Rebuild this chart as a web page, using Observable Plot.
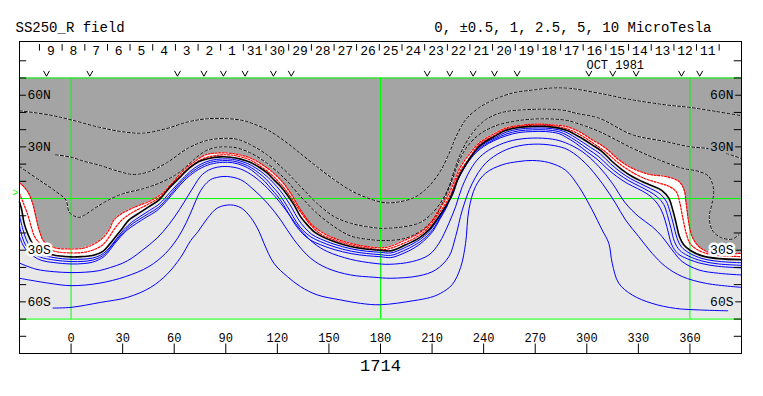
<!DOCTYPE html>
<html><head><meta charset="utf-8">
<script src="https://cdn.jsdelivr.net/npm/d3@7"></script>
<script src="https://cdn.jsdelivr.net/npm/@observablehq/plot@0.6"></script>
<style>body{margin:0;background:#fff}</style>
</head><body><div id="chart"></div>
<script>
// ---- axis / annotation data ----
const lonTicks = [0, 30, 60, 90, 120, 150, 180, 210, 240, 270, 300, 330, 360];
const latTicks = [-80, -70, -60, -50, -40, -30, -20, -10, 10, 20, 30, 40, 50, 60, 70, 80];
const latLabelValues = [60, 30, -30, -60];
const latLabelText = ["60N", "30N", "30S", "60S"];
const dayLabels = [9, 8, 7, 6, 5, 4, 3, 2, 1, 31, 30, 29, 28, 27, 26, 25, 24, 23, 22, 21, 20, 19, 18, 17, 16, 15, 14, 13, 12, 11];
const dayLons = [-11.8, 1.4, 14.6, 27.7, 40.9, 54.1, 67.3, 80.5, 93.6, 106.8, 120, 133.2, 146.4, 159.5, 172.7, 185.9, 199.1, 212.3, 225.4, 238.6, 251.8, 265, 278.2, 291.3, 304.5, 317.7, 330.9, 344.1, 357.2, 370.4];
const dayTickLons = [-18.4, -5.2, 8, 21.2, 34.3, 47.5, 60.7, 73.9, 87, 100.2, 113.4, 126.6, 139.8, 153, 166.1, 179.3, 192.5, 205.7, 218.9, 232, 245.2, 258.4, 271.6, 284.8, 297.9, 311.1, 324.3, 337.5, 350.7, 363.8, 377];
const monthLabel = [{lon: 299.8, lat: 75.2, text: "OCT 1981"}];
const obsLons = [-14.3, 10.9, 61.9, 77.3, 88.6, 101.2, 117.7, 128.1, 207.2, 220.3, 233.9, 246.3, 259.5, 301.2, 315.1, 328.7, 355.1, 365.7];
const earthLat = [3.3];
const gridLons = [0, 180, 360];
const gridLats = [70, 0, -70];

// ---- contour lines [longitude, latitude] ----
const neutralLine = [[-30,-2],[-28.7,-6.6],[-27.3,-14.3],[-25.3,-20.2],[-22.4,-26],[-17.6,-29.8],[-10.8,-32.7],[0,-33.9],[6.6,-33.7],[12.4,-33.1],[18.3,-30.8],[22.1,-26.9],[26,-22.1],[29.9,-17.2],[33.7,-12.4],[39.5,-8.5],[45.3,-4.7],[51.2,-0.8],[57,6],[62.8,11.8],[68.7,17.6],[74.4,21.5],[80,23.3],[87,24.2],[92.8,24],[98.7,22.9],[104.5,20.9],[110.3,17.6],[114.2,14.7],[118,10.8],[121.9,7],[125.8,2.1],[129.7,-3.7],[133.5,-10.5],[137.4,-15.3],[141.3,-19.2],[145.2,-21.7],[152.9,-25],[162.6,-27.9],[172.3,-29.5],[180,-30],[186,-30.4],[194.6,-26.9],[202.3,-23],[208.1,-18.2],[213.9,-10.5],[217.8,-4.7],[221.7,2.1],[225.6,12.8],[229.5,19.6],[233.4,25.4],[237.3,30.2],[241.1,33.1],[246.9,36.4],[252.7,39.5],[260.5,41.3],[268.3,41.9],[276,41.9],[283.8,40.9],[289,39.3],[295.3,36],[303.1,31.2],[308.9,27.3],[314.8,21.5],[320.6,16.7],[326.4,12.8],[332.2,9.9],[338,7.4],[343.8,4.6],[347.7,0.2],[350,-6.6],[352,-14.4],[353.9,-22.1],[356.4,-26.9],[360.3,-30.2],[367.1,-33.3],[376.7,-34.9],[390,-35.5]];

const redOuter = [[-30,9],[-29.2,8.5],[-25.3,4.1],[-22.4,-2.7],[-20.5,-10.5],[-18.6,-18.2],[-15.7,-25],[-9.9,-28.5],[0,-29.3],[6.6,-28.9],[12.4,-26.9],[18.3,-23],[22.1,-18.2],[25,-12.4],[29.9,-8.5],[37.6,-4.7],[45.3,-1.7],[53.1,3.1],[59,9.3],[64.8,15.7],[70.6,20.5],[78.3,25.4],[87,26.5],[95,26],[104.5,23.4],[114.2,17.6],[121.9,10.8],[127.7,3.1],[133.5,-6.6],[139.3,-14.4],[145.2,-19.2],[152.9,-23],[162.6,-26],[172.3,-27.9],[183,-28.4],[194.6,-24],[202.3,-20.2],[208.1,-15.3],[213.9,-6.6],[217.8,-0.8],[221.7,7],[225.6,16.7],[231.4,25.4],[237.3,32.2],[245,37],[252.7,40.9],[260.5,42.4],[270.2,43.2],[279.9,42.8],[287.6,41.9],[295.3,39],[303.1,34.1],[310.9,29.3],[318.6,22.5],[326.4,17.6],[336.1,14.1],[345.8,12.8],[353.6,9.9],[356.6,5],[357.8,-2.7],[359.4,-14.4],[361.3,-22.1],[365.2,-27.9],[373,-31.8],[390,-31.8]];

const redInner = [[-30,3],[-28,-2],[-25,-10],[-23,-17],[-21,-22.5],[-17,-27],[-10,-30.5],[0,-31.6],[7,-31.3],[12.4,-30],[18.3,-27],[22,-22.5],[25,-18],[29,-13],[35,-8.5],[45,-3.2],[52,1],[58,7.5],[64,13.5],[70,18.8],[77,23.2],[87,25.3],[95,25],[104.5,22.2],[112,17.5],[118,12.5],[124,6],[129,-1],[134,-8.5],[139,-15],[145,-20.5],[153,-24],[163,-27],[172,-28.7],[183,-29.5],[194.6,-25.5],[202.3,-21.6],[208,-16.7],[214,-8.5],[218,-2.7],[221.7,4.5],[225.6,14.7],[231,22.5],[237.3,31.2],[245,36],[252.7,40.2],[260.5,41.9],[270,42.6],[280,42.3],[288,40.6],[295.3,37.5],[303,32.6],[311,27],[318,21],[326,15.5],[334,11.5],[342,9],[348,7],[352,4],[354,-2],[356,-12],[357.8,-20],[360,-26],[364,-29.5],[372,-32.5],[390,-33.7]];

const blue1 = [[-30,-10],[-28,-18],[-26,-24],[-23,-29],[-18,-32.3],[-10,-34.3],[0,-35.3],[7,-35.2],[12.4,-34.6],[17,-33],[20.5,-30.5],[24,-26.5],[27.5,-22],[31,-17.8],[35,-14],[40,-10.5],[45.5,-7],[51.5,-3],[57.5,3.5],[63,9.5],[69,15.5],[75,19.7],[81,22.1],[88,23],[94,22.8],[100,21.3],[105,19.2],[110,16],[114,12.8],[118,8.8],[121.5,4.8],[125,0],[128.5,-5.5],[132,-11.8],[136,-17],[140,-20.8],[145,-23.4],[153,-26.5],[163,-29.2],[172,-30.6],[180,-31.2],[186,-31.6],[194,-28.6],[201,-25],[207,-20.5],[212.5,-13.5],[216.5,-7],[220.5,0],[224.5,10.5],[228.5,17.8],[232.5,24],[236.5,29],[241,32.3],[247,35.5],[253,38.5],[260.5,40.3],[268.3,40.9],[276,40.9],[283.8,39.9],[289,38],[294.5,34.7],[302,29.8],[308,25.8],[313.8,20.2],[319.5,15.5],[325.5,11.5],[331.5,8.5],[337,5.8],[342.5,2.8],[346.2,-1.5],[348.5,-8],[350.5,-15.5],[352.5,-23],[355,-28],[359.5,-31.6],[367,-34.8],[376.7,-36.5],[390,-37.3]];

const blue2 = [[-30,-16],[-28.5,-22],[-26.5,-27],[-23,-31],[-18,-34],[-10,-35.7],[0,-36.6],[7,-36.5],[12.4,-35.8],[16.5,-34.3],[20,-32],[23,-28.3],[26.5,-24],[30,-20],[34,-16],[39,-12.5],[45,-8.8],[51,-5],[56.5,0.8],[62,7.3],[68,13.5],[74.5,18.2],[81,21],[88,22],[94,21.8],[100,20.2],[105,17.8],[109.5,14.6],[113.5,11.2],[117,7.2],[120.5,3.2],[124,-1.8],[127.5,-7.5],[131,-13.5],[135,-18.5],[139.5,-22.3],[145,-25],[153,-28],[163,-30.6],[172,-31.9],[180,-32.6],[186,-33],[193.5,-30.3],[200,-27],[206,-22.8],[211.5,-16.5],[215.5,-9.5],[219.5,-2.5],[223.5,8],[227.5,15.8],[231.5,22.2],[236,27.8],[240.5,31.2],[246.5,34.5],[253,37.4],[260.5,39.3],[268.3,39.9],[276,39.9],[283.8,38.8],[288.5,36.8],[294,33.4],[301,28.5],[307,24.3],[312.8,18.8],[318.5,14.2],[324.5,10.3],[330.5,7.2],[336,4.3],[341,1],[344.8,-3.5],[347,-10],[349,-17.5],[351,-25],[354,-30],[359,-33.3],[367,-36.3],[376.7,-38],[390,-38.8]];

const blue3 = [[-30,-22],[-28,-27],[-25.5,-30.5],[-22,-33.5],[-17,-36],[-10,-37.2],[0,-38],[7,-37.8],[12.4,-37],[16,-35.6],[19.5,-33.5],[22.5,-30],[25.5,-26],[29,-22],[33,-18],[38,-14.5],[44,-10.7],[50,-7],[55.5,-1.5],[61,5],[67,11.5],[74,16.8],[81,19.9],[88,21],[94,20.8],[100,19.1],[105,16.5],[109,13.2],[113,9.6],[116.5,5.5],[120,1.5],[123.5,-3.5],[127,-9.5],[130.5,-15.3],[134.5,-20.2],[139,-24],[145,-26.8],[153,-29.6],[163,-32],[172,-33.2],[180,-33.8],[186,-34.3],[193,-32],[199.5,-28.8],[205,-24.8],[210.5,-19],[214.5,-12],[218.5,-5],[222.5,5.5],[226.5,13.7],[230.5,20.5],[235.5,26.6],[240,30.2],[246,33.6],[253,36.4],[260.5,38.3],[268.3,38.9],[276,38.9],[283.8,37.7],[288,35.6],[293.5,32.2],[300,27.2],[306,22.8],[311.8,17.4],[317.5,12.8],[323.5,8.8],[329.5,5.8],[335,2.8],[339.5,-1],[343,-6],[345.5,-12.5],[347.5,-20],[349.5,-27],[353,-32],[358.5,-35],[367,-37.8],[376.7,-39.4],[390,-40.3]];

const blue4 = [[-30,-37.5],[-20.5,-41],[-10,-42.5],[0,-43],[8,-42.8],[16.3,-41.9],[23,-40],[29.9,-37.6],[35.5,-34.5],[41.5,-30],[50,-23],[57,-15],[63,-6.5],[68,1.5],[72,8],[75.4,13],[80,16.5],[85,18.2],[90.9,18.6],[98.7,17.1],[106.4,12.8],[114.2,6],[121.9,-2.7],[127.7,-10.5],[133.5,-18.2],[141.3,-26],[149.1,-30.8],[162.6,-35.3],[176.2,-37.6],[185,-38.2],[198.5,-36.6],[208.1,-32.8],[214,-26],[219.8,-14.3],[223.7,-4.7],[227.6,7],[233.4,18.6],[239.2,25.4],[246.9,30.2],[256.6,33.7],[268.3,35.1],[279.9,34.5],[287.6,32.4],[297.3,27.3],[307,18.6],[314.8,8.9],[322.5,-2.7],[330.2,-10.5],[338,-16.3],[343.8,-22.1],[349.6,-29.8],[355.5,-36.6],[365.2,-41.5],[376.7,-43.4],[390,-44.4]];

const blue5 = [[-30,-46.3],[-12.8,-49.2],[0,-50.6],[16.3,-49.2],[31.8,-45.3],[45.3,-39.5],[55,-31.8],[62,-23],[67,-14],[71,-5],[74,2],[77,7],[81.2,11],[86,12.5],[90.9,12.8],[98.7,10.9],[106.4,5],[114.2,-2.7],[121.9,-12.4],[129.7,-24],[139.4,-34.7],[149.1,-40.5],[162.6,-44.4],[176.2,-45.7],[186,-46.3],[202.3,-44.9],[212,-41.5],[219.8,-33.7],[223.7,-22.1],[227.6,-6.6],[233.4,8.9],[241.1,20.5],[250.8,27.3],[260.5,30.6],[272.1,31.6],[283.7,30.2],[290,27.8],[299.2,20.5],[308.9,8.9],[316.7,-2.7],[322.5,-12.4],[330.2,-22.1],[338,-31.8],[345.8,-39.5],[355.5,-45.3],[369,-49.2],[390,-51.6]];

const blue6 = [[-10.5,-63.6],[0,-63.2],[17.3,-60.3],[32.8,-57.4],[46.3,-51.6],[56,-43.8],[63.8,-34.1],[69.6,-24.4],[74,-19],[79.3,-11.5],[85.1,-5.5],[92.8,-3.7],[99,-5.5],[104.5,-11],[109.3,-19],[112.2,-26],[118,-37.6],[125.8,-45.3],[133.5,-51.2],[143.3,-56],[156.8,-58.9],[168.4,-60.9],[180,-61.7],[199.4,-59.3],[209.1,-57.4],[215,-55],[221.7,-50],[226.6,-40],[229.5,-26],[231.4,-6.6],[235.3,7],[241.1,14.7],[250.8,19.6],[260.5,21.5],[268.3,22.1],[277.9,20.9],[287.6,16.5],[295.3,7],[303.1,-6.6],[308.9,-18.2],[312.8,-26],[314.8,-37.6],[318.6,-49.2],[326.4,-56],[338,-60.9],[351.6,-63.8],[365.2,-64.7],[382,-65.2]];

const dashed1 = [[-30,18.6],[-18.6,10.8],[-8.9,4.1],[-3.1,-0.8],[-1.2,-7.6],[1.5,-10],[4.7,-10.9],[8,-9.5],[12.4,-6.6],[20.2,-1.7],[29.9,2.7],[41.5,5.6],[51.2,8.9],[60.9,13.8],[67,18.5],[72.5,23.5],[78,27.5],[84,29.6],[90,30],[96,29.5],[104.5,26.4],[114,20.5],[124,11.8],[133.5,1.2],[143,-8.5],[153,-16.3],[162.6,-21.7],[172,-23.6],[183,-24.4],[194.6,-23],[204.3,-18.2],[212,-10.5],[216.9,-0.8],[221.7,10.8],[225.6,21.5],[230.5,30.2],[237.2,37],[246.9,42.2],[260.5,45.3],[274.1,46.3],[287.6,45.5],[293.4,44],[307,39],[326.4,29.3],[341.9,22.5],[355.5,17.6],[365.2,15.7],[371,12.8],[373.8,5],[372.9,-2.7],[371.3,-10.5],[372.9,-18.2],[377.7,-22.5],[384.5,-23.6],[388.5,-21]];

const dashed2 = [[-9,25.4],[0,24],[8,21.5],[16,19.5],[27,16],[36,14],[45,15.5],[56,21],[67.7,29],[79,33.7],[91,35],[97,34.3],[104.5,31.2],[114,25.4],[124,16.7],[133.5,7],[143,-2.7],[153,-10.5],[162.6,-14.3],[172,-16.3],[183,-17.3],[202.3,-14.3],[210.1,-8.5],[216,-0.8],[219.8,7],[223.7,18.6],[227.6,28.3],[233.4,38],[241.1,45.7],[250.8,50],[264.4,51.6],[279.9,51.8],[288,51],[293.4,49.6],[307,46.7],[326.4,37.1],[345.8,33.1],[359.3,30.2],[372.9,28.6],[389.4,23.4]];

const dashed3 = [[-30,51],[-13,48.6],[0,45.7],[16,41.5],[30,38.8],[42,38],[55,40.5],[68,44.5],[79,46.3],[91,46.4],[100,45.3],[106,43.4],[115,39.5],[124,33.5],[133,26.5],[143,18.5],[153,11],[163,4.5],[172,0.5],[180,-2],[186,-2.5],[198.5,0.1],[206,5],[214,14.6],[220,26.4],[224,36],[229.5,45.7],[237,52.5],[245,57],[256.6,61.2],[270,63.2],[280,64.2],[290,64],[307,61.2],[326,57.4],[346,54.4],[360,52.9],[375,50.6],[390,48.1]];

// ---- styling constants ----
const GRAY = "#a4a4a4", LIGHT = "#e8e8e8", BLUE = "#0000ff", GREEN = "#00ff00", RED = "#ff0000";
const MONO = "Liberation Mono, DejaVu Sans Mono, monospace";
const lonMin = -30, lonMax = 390, latMin = -70, latMax = 70;
const X = d => d[0], Y = d => d[1];
const curve = "catmull-rom";

const latLabels = latLabelValues.map((lat, i) => ({lat, text: latLabelText[i]}));
const halo = d => d.lat > 0 ? GRAY : d.lat === -30 ? "white" : LIGHT;

// "v" shaped marker symbol for observation days
const vSymbol = {
  draw(context, size) {
    const r = Math.sqrt(size / Math.PI);
    context.moveTo(-r, -r * 0.9);
    context.lineTo(0, r * 0.9);
    context.lineTo(r, -r * 0.9);
  }
};

const blueLines = [blue1, blue2, blue3, blue4, blue5, blue6];
const dashedLines = [dashed1, dashed2, dashed3];

const chart = Plot.plot({
  width: 763, height: 396,
  marginLeft: 19, marginRight: 22, marginTop: 41, marginBottom: 43,
  x: {domain: [lonMin, lonMax], axis: null},
  y: {domain: [-90, 91.2], axis: null},
  color: {type: "identity"},
  style: {background: "white", fontFamily: MONO},
  marks: [
    // filled regions
    Plot.areaY(neutralLine, {x: X, y1: latMin, y2: Y, fill: LIGHT, curve}),
    Plot.areaY(redOuter, {x: X, y1: Y, y2: latMax, fill: GRAY, curve}),
    // grid lines
    Plot.ruleY(gridLats, {stroke: GREEN, strokeWidth: 1}),
    Plot.ruleX(gridLons, {y1: latMin, y2: latMax, stroke: GREEN, strokeWidth: 1}),
    // negative contours (dashed black/white)
    ...dashedLines.map(l => Plot.line(l, {x: X, y: Y, stroke: "white", strokeWidth: 1, curve})),
    ...dashedLines.map(l => Plot.line(l, {x: X, y: Y, stroke: "black", strokeWidth: 1, strokeDasharray: "3,2", curve})),
    // positive contours
    ...blueLines.map(l => Plot.line(l, {x: X, y: Y, stroke: BLUE, strokeWidth: 1, curve})),
    // red near-neutral contours
    Plot.line(redInner, {x: X, y: Y, stroke: RED, strokeWidth: 1.2, strokeDasharray: "2,1.5", curve}),
    Plot.line(redOuter, {x: X, y: Y, stroke: RED, strokeWidth: 1.2, strokeDasharray: "2,1.5", curve}),
    // neutral line
    Plot.line(neutralLine, {x: X, y: Y, stroke: "black", strokeWidth: 1.6, curve}),
    // latitude tick marks (inside both edges)
    Plot.ruleY(latTicks, {x1: lonMin, x2: lonMin + 4.2, stroke: "black"}),
    Plot.ruleY(latTicks, {x1: lonMax - 4.2, x2: lonMax, stroke: "black"}),
    // latitude labels
    Plot.text(latLabels, {x: lonMin, y: "lat", text: "text", dx: 8, textAnchor: "start", lineAnchor: "middle", fontSize: 13, fill: "black", stroke: halo, strokeWidth: 5, paintOrder: "stroke"}),
    Plot.text(latLabels, {x: lonMax, y: "lat", text: "text", dx: -8, textAnchor: "end", lineAnchor: "middle", fontSize: 13, fill: "black", stroke: halo, strokeWidth: 5, paintOrder: "stroke"}),
    // longitude axis
    Plot.ruleX(lonTicks, {y1: -84.5, y2: -90, stroke: "black"}),
    Plot.text(lonTicks, {x: d => d, y: -83.1, text: d => String(d), lineAnchor: "bottom", fontSize: 12, fill: "black"}),
    // day-of-month scale at top
    Plot.ruleX(dayTickLons, {y1: 85.6, y2: 89.4, stroke: "black"}),
    Plot.text(dayLabels, {x: (d, i) => dayLons[i], y: 83.4, text: d => String(d), lineAnchor: "bottom", fontSize: 13, fill: "black"}),
    Plot.text(monthLabel, {x: "lon", y: "lat", text: "text", textAnchor: "start", lineAnchor: "bottom", fontSize: 12, fill: "black"}),
    // observation markers
    Plot.dot(obsLons, {x: d => d, y: 72.6, symbol: vSymbol, r: 3, stroke: "black", fill: "none", strokeWidth: 1}),
    // earth latitude marker
    Plot.text(earthLat, {x: lonMin, y: d => d, text: () => ">", dx: -1, textAnchor: "end", lineAnchor: "middle", fontSize: 10, fill: GREEN}),
    // frame
    Plot.frame({stroke: "black", strokeWidth: 1}),
    // titles
    Plot.text(["SS250_R field"], {frameAnchor: "top-left", dx: -4, dy: -9.3, textAnchor: "start", lineAnchor: "bottom", fontSize: 14, fill: "black"}),
    Plot.text(["0, \u00b10.5, 1, 2.5, 5, 10 MicroTesla"], {frameAnchor: "top-right", dx: -30, dy: -9.3, textAnchor: "end", lineAnchor: "bottom", fontSize: 14, fill: "black"}),
    Plot.text(["1714"], {frameAnchor: "bottom", dy: 17.7, lineAnchor: "bottom", fontSize: 17, fill: "black"})
  ]
});
document.getElementById("chart").appendChild(chart);
</script></body></html>
